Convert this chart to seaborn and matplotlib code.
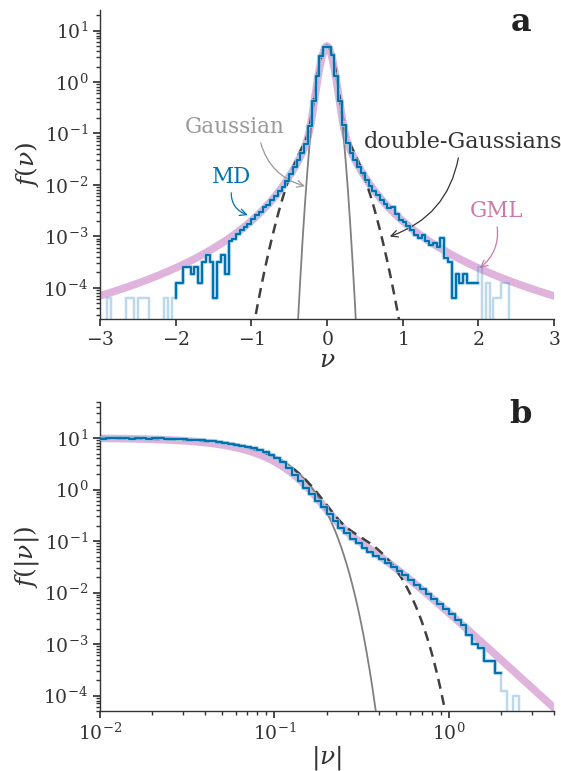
import numpy as np
import pandas as pd
import matplotlib
matplotlib.use("Agg")
import matplotlib.pyplot as plt
import seaborn as sns

# ---------------------------------------------------------------- data
# MD histogram of v: bins of width 0.05 on [-3, 3]
bin_width = 0.05
v_start = -3.0

# bins from [-3.00, -2.95] up to [-0.05, 0.00]
md_neg = [0, 0, 6.3e-5, 0, 0, 0, 0, 6.3e-5, 6.3e-5, 0,
          6.3e-5, 6.3e-5, 6.3e-5, 0, 0, 0, 0, 6.3e-5, 0, 6.3e-5,
          1.26e-4, 1.26e-4, 2.52e-4, 2.52e-4, 1.89e-4, 2.52e-4, 1.26e-4, 3.15e-4, 4.41e-4, 3.15e-4,
          6.3e-5, 3.15e-4, 4.41e-4, 1.89e-4, 8.19e-4, 8.82e-4, 1.134e-3, 1.323e-3, 1.512e-3, 1.764e-3,
          2.2e-3, 2.6e-3, 3.0e-3, 3.7e-3, 4.1e-3, 5.2e-3, 6.0e-3, 7.6e-3, 9.2e-3, 0.0118,
          0.0165, 0.022, 0.030, 0.041, 0.063, 0.140, 0.42, 1.30, 3.25, 4.78]
# bins from [0.00, 0.05] up to [2.95, 3.00]
md_pos = [4.75, 3.30, 1.28, 0.43, 0.145, 0.066, 0.042, 0.031, 0.0225, 0.0168,
          0.0125, 0.0097, 0.0078, 0.0063, 0.0052, 0.0042, 0.0036, 0.0037, 0.0027, 0.0021,
          1.89e-3, 1.575e-3, 1.323e-3, 1.071e-3, 9.45e-4, 1.071e-3, 8.19e-4, 6.93e-4, 7.56e-4, 6.3e-4,
          9.45e-4, 3.78e-4, 3.15e-4, 6.3e-5, 1.89e-4, 1.26e-4, 1.89e-4, 1.26e-4, 1.26e-4, 1.26e-4,
          2.52e-4, 0, 1.26e-4, 0, 6.3e-5, 6.3e-5, 1.26e-4, 1.26e-4, 0, 0,
          0, 0, 0, 0, 0, 0, 0, 0, 0, 0]
md_cut = 2.0  # |v| range shown in full colour

# MD histogram of |v|: 30 log-spaced bins per decade, first edge at 10**-2.1
abs_bins_per_decade = 30
abs_first_exp = -2.1
md_abs = [9.9, 9.8, 9.9, 9.7, 9.9, 9.8, 10.0, 9.8, 9.7, 10.0,
          9.8, 9.7, 9.9, 9.8, 9.6, 9.7, 9.5, 9.4, 9.3, 9.1,
          9.0, 8.8, 8.6, 8.4, 8.1, 7.8, 7.4, 7.1, 6.7, 6.3,
          5.8, 5.25, 4.7, 4.1, 3.4, 2.6, 1.95, 1.45, 1.08, 0.80,
          0.60, 0.46, 0.34, 0.245, 0.18, 0.14, 0.108, 0.092, 0.074, 0.062,
          0.052, 0.044, 0.037, 0.031, 0.026, 0.0215, 0.0175, 0.0142, 0.0115, 0.0092,
          0.0074, 0.0060, 0.0048, 0.0039, 0.0029, 0.0023, 0.0015, 0.0010, 0.00083, 0.00046,
          0.00046, 0.00027, 1.2e-4, 0, 9.6e-5, 0, 0, 0, 0, 0, 0]
md_abs_cut = 2.0

# tick positions
v_ticks = [-3, -2, -1, 0, 1, 2, 3]
f_ticks_a = [1e-4, 1e-3, 1e-2, 1e-1, 1e0, 1e1]
u_ticks = [1e-2, 1e-1, 1e0]

# model parameters
gauss_sigma = 0.077
dg_weights = [0.9143, 0.0857]
dg_sigmas = [0.0755, 0.228]
gml_core_amp, gml_core_scale, gml_core_power = 4.69, 0.0938, 1.8
gml_tail_amp, gml_tail_scale, gml_tail_power = 0.312, 0.2, 3.1

# ---------------------------------------------------------------- style
sns.set_theme(style="ticks")
plt.rcParams["font.family"] = ["DejaVu Serif"]
plt.rcParams["mathtext.fontset"] = "dejavuserif"
plt.rcParams.update({
    "text.color": "#333333", "axes.labelcolor": "#333333",
    "xtick.color": "#333333", "ytick.color": "#333333",
    "axes.edgecolor": "#333333", "axes.linewidth": 1.0,
    "xtick.labelsize": 13.5, "ytick.labelsize": 13.5, "axes.labelsize": 18,
    "xtick.major.size": 5, "ytick.major.size": 5,
    "xtick.minor.size": 3, "ytick.minor.size": 3,
})

C_MD = "#0072B2"
C_MD_HALO = "#9ecae1"
C_GML = "#CC79A7"
C_BAND = "#dfb3dc"
C_GAUSS = "#808080"
C_GAUSS_TXT = "#999999"
C_DG = "#404040"
NOTE_SIZE = 15.5


def gaussian(v, s):
    return np.exp(-v ** 2 / (2 * s ** 2)) / (s * np.sqrt(2 * np.pi))


def double_gaussian(v):
    return sum(w * gaussian(v, s) for w, s in zip(dg_weights, dg_sigmas))


def gml(v):
    core = gml_core_amp * np.exp(-(np.abs(v) / gml_core_scale) ** gml_core_power)
    tail = gml_tail_amp * (1 + (v / gml_tail_scale) ** 2) ** (-gml_tail_power / 2)
    return core + tail


def step_line(ax, edges, vals, alpha, lo=None, hi=None):
    """Histogram outline: x are bin edges, each edge carries the bin on its left."""
    edges = np.asarray(edges)
    vals = np.asarray(vals, dtype=float)
    y = np.concatenate([[vals[0]], vals])
    df = pd.DataFrame({"x": edges, "y": y})
    if lo is not None:
        keep = (df.x >= lo - 1e-9) & (df.x <= hi + 1e-9)
        idx = np.where(keep)[0]
        first = idx[0]
        df = df.iloc[first:idx[-1] + 1].copy()
        df.iloc[0, 1] = vals[first - 1] if first >= 1 else vals[0]
    sns.lineplot(data=df, x="x", y="y", ax=ax, drawstyle="steps-pre", estimator=None,
                 sort=False, color=C_MD_HALO, lw=3.0, alpha=0.7 * alpha, zorder=5)
    sns.lineplot(data=df, x="x", y="y", ax=ax, drawstyle="steps-pre", estimator=None,
                 sort=False, color=C_MD, lw=1.5, alpha=alpha, zorder=6)


fig = plt.figure(figsize=(5.61, 7.71), dpi=100)
ax_a = fig.add_axes([0.178, 0.5863, 0.8095, 0.4007])
ax_b = fig.add_axes([0.178, 0.0778, 0.8095, 0.4008])

# ---------------------------------------------------------------- panel a
md_v = md_neg + md_pos
v_edges = v_start + bin_width * np.arange(len(md_v) + 1)
ax_a.set_yscale("log")

vg = np.linspace(-3, 3, 1601)
curves_a = pd.DataFrame({"v": vg, "gml": gml(vg), "gauss": gaussian(vg, gauss_sigma),
                         "dg": double_gaussian(vg)})
sns.lineplot(data=curves_a, x="v", y="gml", ax=ax_a, color=C_BAND, lw=5.5, zorder=1)
sns.lineplot(data=curves_a, x="v", y="gauss", ax=ax_a, color=C_GAUSS, lw=1.3, zorder=3)
sns.lineplot(data=curves_a, x="v", y="dg", ax=ax_a, color=C_DG, lw=1.8, zorder=4,
             linestyle=(0, (4, 2.6)))

step_line(ax_a, v_edges, md_v, alpha=0.22)
step_line(ax_a, v_edges, md_v, alpha=1.0, lo=-md_cut, hi=md_cut)

ax_a.set_xticks(v_ticks)
ax_a.set_xticklabels([f"${t}$" for t in v_ticks])
ax_a.set_yticks(f_ticks_a)
ax_a.set_xlim(-3, 3)
ax_a.set_ylim(2.5e-5, 25)
ax_a.set_xlabel(r"$\nu$", labelpad=0)
ax_a.set_ylabel(r"$f(\nu)$", labelpad=2)

arrow_kw = dict(arrowstyle="->", lw=0.9, shrinkA=1, shrinkB=0, mutation_scale=12)
ax_a.annotate("Gaussian", xy=(-0.29, 9.5e-3), xytext=(-1.22, 0.132), fontsize=NOTE_SIZE,
              color=C_GAUSS_TXT, ha="center", va="center",
              arrowprops=dict(color=C_GAUSS_TXT, connectionstyle="arc3,rad=0.3",
                              relpos=(0.75, 0.0), **arrow_kw))
ax_a.annotate("MD", xy=(-1.045, 2.6e-3), xytext=(-1.26, 0.0142), fontsize=NOTE_SIZE,
              color=C_MD, ha="center", va="center",
              arrowprops=dict(color=C_MD, connectionstyle="arc3,rad=0.4",
                              relpos=(0.5, 0.0), **arrow_kw))
ax_a.annotate("double-Gaussians", xy=(0.83, 1.0e-3), xytext=(1.8, 0.0676), fontsize=16,
              color="#333333", ha="center", va="center",
              arrowprops=dict(color="#333333", connectionstyle="arc3,rad=-0.3",
                              relpos=(0.48, 0.0), **arrow_kw))
ax_a.annotate("GML", xy=(2.02, 2.44e-4), xytext=(2.24, 3.1e-3), fontsize=NOTE_SIZE,
              color=C_GML, ha="center", va="center",
              arrowprops=dict(color=C_GML, connectionstyle="arc3,rad=-0.3",
                              relpos=(0.5, 0.0), **arrow_kw))
ax_a.text(0.927, 0.961, "a", transform=ax_a.transAxes, fontsize=23, fontweight="bold",
          ha="center", va="center", color="#222222")

# ---------------------------------------------------------------- panel b
abs_edges = 10 ** (abs_first_exp + np.arange(len(md_abs) + 1) / abs_bins_per_decade)
ax_b.set_xscale("log")
ax_b.set_yscale("log")

ug = np.logspace(-2, 0.61, 800)
curves_b = pd.DataFrame({"u": ug, "gml": 2 * gml(ug), "gauss": 2 * gaussian(ug, gauss_sigma),
                         "dg": 2 * double_gaussian(ug)})
sns.lineplot(data=curves_b, x="u", y="gml", ax=ax_b, color=C_BAND, lw=5.5, zorder=1)
sns.lineplot(data=curves_b, x="u", y="gauss", ax=ax_b, color=C_GAUSS, lw=1.3, zorder=3)
sns.lineplot(data=curves_b, x="u", y="dg", ax=ax_b, color=C_DG, lw=1.8, zorder=4,
             linestyle=(0, (4, 2.6)))

step_line(ax_b, abs_edges, md_abs, alpha=0.22)
step_line(ax_b, abs_edges, md_abs, alpha=1.0, lo=abs_edges[0], hi=md_abs_cut)

ax_b.set_xticks(u_ticks)
ax_b.set_yticks(f_ticks_a)
ax_b.set_xlim(1e-2, 4)
ax_b.set_ylim(5e-5, 50)
ax_b.set_xlabel(r"$|\nu|$", labelpad=0)
ax_b.set_ylabel(r"$f(|\nu|)$", labelpad=2)
ax_b.text(0.927, 0.961, "b", transform=ax_b.transAxes, fontsize=23, fontweight="bold",
          ha="center", va="center", color="#222222")

for ax in (ax_a, ax_b):
    sns.despine(ax=ax)
    ax.tick_params(which="both", direction="out")

fig.savefig("out.png", dpi=100)
